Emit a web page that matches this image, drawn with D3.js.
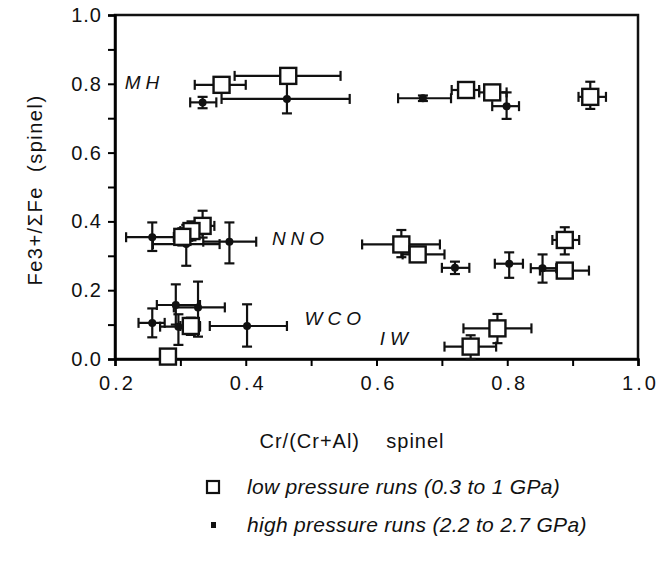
<!DOCTYPE html>
<html>
<head>
<meta charset="utf-8">
<script src="https://cdn.jsdelivr.net/npm/d3@7"></script>
<style>
  body { margin: 0; background: #fff; }
  svg { font-family: "Liberation Sans", Arial, sans-serif; }
</style>
</head>
<body>
<div class="graph"></div>
<script>
// low pressure runs (open squares)
const lowX   = [0.363, 0.465, 0.737, 0.777, 0.927, 0.334, 0.317, 0.303, 0.638, 0.663, 0.888, 0.888, 0.316, 0.281, 0.785, 0.744];
const lowY   = [0.797, 0.823, 0.782, 0.775, 0.762, 0.387, 0.372, 0.355, 0.333, 0.304, 0.346, 0.257, 0.096, 0.007, 0.089, 0.036];
const lowXLo = [0.322, 0.383, 0.715, 0.757, 0.909, 0.312, 0.300, 0.290, 0.578, 0.640, 0.869, 0.850, 0.300, null, 0.733, 0.704];
const lowXHi = [0.400, 0.545, 0.757, 0.799, 0.951, 0.352, 0.334, 0.318, 0.697, 0.704, 0.910, 0.925, 0.330, null, 0.837, 0.783];
const lowYLo = [null, null, null, null, 0.727, 0.353, 0.345, 0.330, 0.296, 0.285, 0.304, null, 0.070, null, 0.046, 0.000];
const lowYHi = [null, null, null, null, 0.806, 0.431, 0.400, 0.380, 0.375, 0.320, 0.383, null, 0.120, null, 0.131, 0.069];

// high pressure runs (filled dots)
const highX   = [0.334, 0.463, 0.671, 0.799, 0.257, 0.309, 0.375, 0.720, 0.803, 0.854, 0.257, 0.293, 0.327, 0.297, 0.402];
const highY   = [0.746, 0.756, 0.758, 0.735, 0.354, 0.334, 0.341, 0.265, 0.277, 0.264, 0.105, 0.157, 0.150, 0.094, 0.096];
const highXLo = [0.315, 0.363, 0.633, 0.777, 0.217, 0.258, 0.335, 0.700, 0.781, 0.836, 0.236, 0.264, 0.290, 0.269, 0.345];
const highXHi = [0.355, 0.559, 0.714, 0.818, 0.295, 0.360, 0.416, 0.742, 0.824, 0.875, 0.276, 0.330, 0.368, 0.330, 0.463];
const highYLo = [0.729, 0.714, 0.750, 0.698, 0.314, 0.271, 0.278, 0.247, 0.236, 0.222, 0.063, 0.100, 0.065, 0.041, 0.036];
const highYHi = [0.762, 0.800, 0.766, 0.775, 0.397, 0.390, 0.397, 0.283, 0.310, 0.304, 0.147, 0.217, 0.225, 0.130, 0.159];

// buffer labels
const bufferNames = ['MH', 'NNO', 'WCO', 'IW'];
const bufferX = [0.215, 0.44, 0.49, 0.605];
const bufferY = [0.785, 0.33, 0.10, 0.04];

const xTicks = [0.2, 0.4, 0.6, 0.8, 1.0];
const yTicks = [0.0, 0.2, 0.4, 0.6, 0.8, 1.0];
const legendLabels = ['low pressure runs (0.3 to 1 GPa)', 'high pressure runs (2.2 to 2.7 GPa)'];

const W = 658, H = 567;
const svg = d3.select('.graph').append('svg').attr('width', W).attr('height', H);

const xScale = d3.scaleLinear().domain([0.2, 1.0]).range([115, 638]);
const yScale = d3.scaleLinear().domain([0, 1.0]).range([359, 15]);

// frame
svg.append('rect')
    .attr('x', 115).attr('y', 15).attr('width', 523).attr('height', 344)
    .attr('fill', 'none').attr('stroke', '#111').attr('stroke-width', 2.5);

// y axis
const yAxis = d3.axisLeft(yScale).tickValues(d3.range(0, 1.01, 0.1)).tickSize(7)
    .tickFormat(d => yTicks.some(t => Math.abs(t - d) < 1e-6) ? d.toFixed(1) : '');
const gy = svg.append('g').attr('transform', 'translate(115,0)').call(yAxis);
gy.select('.domain').attr('stroke-width', 2.5);
gy.selectAll('.tick line').attr('stroke-width', 2);
gy.selectAll('.tick text').attr('font-size', 20).attr('fill', '#111')
    .attr('letter-spacing', '1px').attr('dx', -3);

// x axis
const xAxis = d3.axisBottom(xScale).tickValues(d3.range(0.2, 1.01, 0.1)).tickSize(7)
    .tickFormat(d => xTicks.some(t => Math.abs(t - d) < 1e-6) ? d.toFixed(1) : '');
const gx = svg.append('g').attr('transform', 'translate(0,359)').call(xAxis);
gx.select('.domain').attr('stroke-width', 2.5);
gx.selectAll('.tick line').attr('stroke-width', 2);
gx.selectAll('.tick text').attr('font-size', 20).attr('fill', '#111')
    .attr('letter-spacing', '3px').attr('dx', 2).attr('dy', '1.05em');

// axis titles
svg.append('text')
    .attr('transform', 'translate(42,190) rotate(-90)')
    .attr('text-anchor', 'middle').attr('font-size', 20).attr('fill', '#111')
    .attr('letter-spacing', '1.5px')
    .attr('xml:space', 'preserve')
    .text('Fe3+/\u03A3Fe  (spinel)');
svg.append('text')
    .attr('x', 352).attr('y', 448)
    .attr('text-anchor', 'middle').attr('font-size', 20).attr('fill', '#111')
    .attr('letter-spacing', '1px')
    .attr('xml:space', 'preserve')
    .text('Cr/(Cr+Al)    spinel');

// error bar helper
function errorBars(xs, ys, xlo, xhi, ylo, yhi) {
    const g = svg.append('g').attr('stroke', '#111').attr('stroke-width', 2.2);
    const cap = 5;
    xs.forEach((x, i) => {
        const px = xScale(x), py = yScale(ys[i]);
        if (xlo[i] != null) {
            const a = xScale(xlo[i]), b = xScale(xhi[i]);
            g.append('line').attr('x1', a).attr('x2', b).attr('y1', py).attr('y2', py);
            g.append('line').attr('x1', a).attr('x2', a).attr('y1', py - cap).attr('y2', py + cap);
            g.append('line').attr('x1', b).attr('x2', b).attr('y1', py - cap).attr('y2', py + cap);
        }
        if (ylo[i] != null) {
            const a = yScale(ylo[i]), b = yScale(yhi[i]);
            g.append('line').attr('x1', px).attr('x2', px).attr('y1', a).attr('y2', b);
            g.append('line').attr('x1', px - cap).attr('x2', px + cap).attr('y1', a).attr('y2', a);
            g.append('line').attr('x1', px - cap).attr('x2', px + cap).attr('y1', b).attr('y2', b);
        }
    });
}

errorBars(highX, highY, highXLo, highXHi, highYLo, highYHi);
errorBars(lowX, lowY, lowXLo, lowXHi, lowYLo, lowYHi);

// high pressure markers
svg.selectAll('circle.high')
    .data(highX.map((x, i) => [x, highY[i]]))
    .enter().append('circle').attr('class', 'high')
    .attr('cx', d => xScale(d[0])).attr('cy', d => yScale(d[1]))
    .attr('r', 4).attr('fill', '#111');

// low pressure markers
const sq = 16;
svg.selectAll('rect.low')
    .data(lowX.map((x, i) => [x, lowY[i]]))
    .enter().append('rect').attr('class', 'low')
    .attr('x', d => xScale(d[0]) - sq / 2).attr('y', d => yScale(d[1]) - sq / 2)
    .attr('width', sq).attr('height', sq)
    .attr('fill', '#fff').attr('stroke', '#111').attr('stroke-width', 2.4);

// buffer labels
svg.selectAll('text.buffer')
    .data(bufferNames)
    .enter().append('text').attr('class', 'buffer')
    .attr('x', (d, i) => xScale(bufferX[i])).attr('y', (d, i) => yScale(bufferY[i]))
    .attr('font-size', 19).attr('font-style', 'italic').attr('letter-spacing', '5px')
    .attr('fill', '#111')
    .text(d => d);

// legend
const lg = svg.append('g');
lg.append('rect').attr('x', 207).attr('y', 481).attr('width', 12).attr('height', 12)
    .attr('fill', '#fff').attr('stroke', '#111').attr('stroke-width', 2.2);
lg.append('rect').attr('x', 211).attr('y', 522).attr('width', 5).attr('height', 6)
    .attr('fill', '#111');
lg.selectAll('text')
    .data(legendLabels)
    .enter().append('text')
    .attr('x', 247).attr('y', (d, i) => 494 + i * 38)
    .attr('font-size', 21).attr('font-style', 'italic').attr('fill', '#111')
    .attr('letter-spacing', '0.3px')
    .text(d => d);
</script>
</body>
</html>
